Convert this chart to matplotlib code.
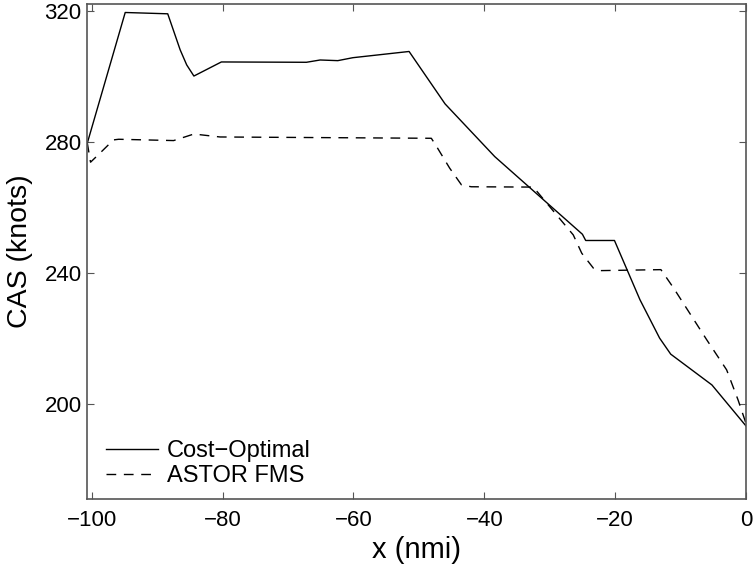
import numpy as np
import matplotlib.pyplot as plt

plt.rcParams['font.family'] = ['Liberation Sans', 'DejaVu Sans']

# Cost-Optimal profile
x_opt = [-100.7, -94.9, -88.4, -86.5, -85.5, -84.4, -80.2, -67.2, -65.1, -62.4,
         -60.1, -51.5, -46.0, -38.4, -25.0, -24.5, -20.1, -16.2, -13.2, -11.5,
         -5.2, 0.0]
cas_opt = [279.5, 319.4, 319.0, 308.0, 303.4, 300.0, 304.3, 304.2, 304.9, 304.7,
           305.6, 307.5, 291.5, 275.4, 251.7, 249.8, 249.8, 231.7, 220.0, 215.1,
           205.7, 193.2]

# ASTOR FMS profile
x_fms = [-100.7, -100.2, -99.0, -96.7, -95.9, -87.5, -84.4, -80.4, -48.1, -47.3,
         -45.3, -43.5, -42.0, -32.5, -26.4, -25.1, -23.3, -22.3, -13.0, -11.1,
         -6.0, -2.95, -1.2, 0.0]
cas_fms = [279.6, 273.7, 276.0, 280.5, 280.7, 280.3, 282.3, 281.4, 281.0, 278.5,
           271.9, 266.8, 266.2, 266.1, 251.5, 245.9, 241.3, 240.6, 240.9, 235.4,
           219.5, 210.3, 201.1, 194.0]

fig = plt.figure(figsize=(7.55, 5.68), dpi=100)
ax = fig.add_axes([0.1156, 0.121, 0.8724, 0.872])

ax.plot(x_opt, cas_opt, 'k-', lw=1.0, label='Cost\u2212Optimal')
ax.plot(x_fms, cas_fms, 'k--', lw=1.0, dashes=(7, 5.5), label='ASTOR FMS')

ax.set_xlim(-100.7, 0)
ax.set_ylim(170.8, 322)
ax.set_xticks([-100, -80, -60, -40, -20, 0])
ax.set_yticks([200, 240, 280, 320])
ax.tick_params(direction='in', top=True, right=True, labelsize=16, length=5,
               color='#555555')
ax.tick_params(axis='x', pad=8)
ax.tick_params(axis='y', pad=4)
for s in ax.spines.values():
    s.set_color('#555555')
    s.set_linewidth(1.2)

ax.set_xlabel('x (nmi)', fontsize=21, labelpad=3)
ax.set_ylabel('CAS (knots)', fontsize=20.5, labelpad=8)

ax.legend(loc='lower left', bbox_to_anchor=(0.029, 0.024), frameon=False,
          fontsize=17, handlelength=2.2, borderaxespad=0, borderpad=0,
          handletextpad=0.35, labelspacing=0.15)

fig.savefig('out.png', dpi=100)
